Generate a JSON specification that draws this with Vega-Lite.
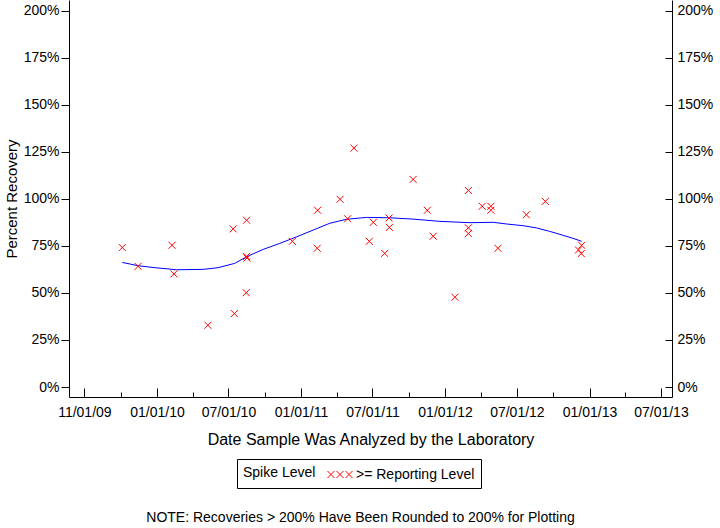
{
  "$schema": "https://vega.github.io/schema/vega-lite/v6.json",
  "width": 603,
  "height": 397,
  "autosize": {"type": "none"},
  "padding": {"left": 69, "top": 0, "right": 48, "bottom": 131},
  "background": "white",
  "title": {"text": "NOTE: Recoveries > 200% Have Been Rounded to 200% for Plotting", "orient": "bottom", "anchor": "middle", "frame": "group", "offset": 22, "dx": -10, "fontSize": 14, "fontWeight": "normal", "font": "Liberation Sans", "color": "black"},
  "config": {
    "font": "Liberation Sans",
    "view": {"stroke": null},
    "axis": {"grid": false, "domainColor": "black", "tickColor": "black", "labelColor": "black", "titleColor": "black", "labelFont": "Liberation Sans", "titleFont": "Liberation Sans", "labelFontSize": 14, "titleFontWeight": "normal", "labelOverlap": false, "labelBound": false, "labelFlush": false}
  },
  "datasets": {
    "pts": [
      {"date": "2009-10-05T00:00:00", "pct": 74.1, "level": ">= Reporting Level"},
      {"date": "2009-11-14T00:00:00", "pct": 64.1, "level": ">= Reporting Level"},
      {"date": "2010-02-08T00:00:00", "pct": 75.3, "level": ">= Reporting Level"},
      {"date": "2010-02-13T00:00:00", "pct": 60.1, "level": ">= Reporting Level"},
      {"date": "2010-05-10T00:00:00", "pct": 32.8, "level": ">= Reporting Level"},
      {"date": "2010-07-13T00:00:00", "pct": 84.0, "level": ">= Reporting Level"},
      {"date": "2010-07-16T00:00:00", "pct": 39.0, "level": ">= Reporting Level"},
      {"date": "2010-08-16T00:00:00", "pct": 88.6, "level": ">= Reporting Level"},
      {"date": "2010-08-16T00:00:00", "pct": 69.4, "level": ">= Reporting Level"},
      {"date": "2010-08-17T00:00:00", "pct": 68.5, "level": ">= Reporting Level"},
      {"date": "2010-08-15T00:00:00", "pct": 50.1, "level": ">= Reporting Level"},
      {"date": "2010-12-10T00:00:00", "pct": 77.4, "level": ">= Reporting Level"},
      {"date": "2011-02-12T00:00:00", "pct": 93.9, "level": ">= Reporting Level"},
      {"date": "2011-02-11T00:00:00", "pct": 73.7, "level": ">= Reporting Level"},
      {"date": "2011-04-10T00:00:00", "pct": 99.7, "level": ">= Reporting Level"},
      {"date": "2011-04-29T00:00:00", "pct": 89.4, "level": ">= Reporting Level"},
      {"date": "2011-05-15T00:00:00", "pct": 126.9, "level": ">= Reporting Level"},
      {"date": "2011-06-23T00:00:00", "pct": 77.4, "level": ">= Reporting Level"},
      {"date": "2011-07-03T00:00:00", "pct": 87.5, "level": ">= Reporting Level"},
      {"date": "2011-08-01T00:00:00", "pct": 71.0, "level": ">= Reporting Level"},
      {"date": "2011-08-12T00:00:00", "pct": 89.8, "level": ">= Reporting Level"},
      {"date": "2011-08-13T00:00:00", "pct": 84.8, "level": ">= Reporting Level"},
      {"date": "2011-10-12T00:00:00", "pct": 110.3, "level": ">= Reporting Level"},
      {"date": "2011-11-17T00:00:00", "pct": 93.9, "level": ">= Reporting Level"},
      {"date": "2011-12-02T00:00:00", "pct": 80.1, "level": ">= Reporting Level"},
      {"date": "2012-01-26T00:00:00", "pct": 47.7, "level": ">= Reporting Level"},
      {"date": "2012-02-29T00:00:00", "pct": 104.4, "level": ">= Reporting Level"},
      {"date": "2012-02-29T00:00:00", "pct": 84.6, "level": ">= Reporting Level"},
      {"date": "2012-02-29T00:00:00", "pct": 81.5, "level": ">= Reporting Level"},
      {"date": "2012-04-04T00:00:00", "pct": 96.0, "level": ">= Reporting Level"},
      {"date": "2012-04-26T00:00:00", "pct": 96.0, "level": ">= Reporting Level"},
      {"date": "2012-04-26T00:00:00", "pct": 93.9, "level": ">= Reporting Level"},
      {"date": "2012-05-14T00:00:00", "pct": 73.7, "level": ">= Reporting Level"},
      {"date": "2012-07-25T00:00:00", "pct": 91.5, "level": ">= Reporting Level"},
      {"date": "2012-09-11T00:00:00", "pct": 98.6, "level": ">= Reporting Level"},
      {"date": "2012-12-04T00:00:00", "pct": 72.8, "level": ">= Reporting Level"},
      {"date": "2012-12-12T00:00:00", "pct": 75.3, "level": ">= Reporting Level"},
      {"date": "2012-12-11T00:00:00", "pct": 70.9, "level": ">= Reporting Level"}
    ],
    "fit": [
      {"date": "2009-10-05T00:00:00", "pct": 66.2},
      {"date": "2009-11-15T00:00:00", "pct": 64.4},
      {"date": "2009-12-27T00:00:00", "pct": 63.4},
      {"date": "2010-02-19T00:00:00", "pct": 62.3},
      {"date": "2010-04-28T00:00:00", "pct": 62.5},
      {"date": "2010-06-05T00:00:00", "pct": 63.4},
      {"date": "2010-07-17T00:00:00", "pct": 65.7},
      {"date": "2010-08-16T00:00:00", "pct": 69.2},
      {"date": "2010-09-27T00:00:00", "pct": 73.1},
      {"date": "2010-11-08T00:00:00", "pct": 76.3},
      {"date": "2010-12-21T00:00:00", "pct": 79.8},
      {"date": "2011-02-01T00:00:00", "pct": 83.4},
      {"date": "2011-03-15T00:00:00", "pct": 87.0},
      {"date": "2011-04-26T00:00:00", "pct": 89.1},
      {"date": "2011-06-16T00:00:00", "pct": 90.1},
      {"date": "2011-08-14T00:00:00", "pct": 89.9},
      {"date": "2011-10-12T00:00:00", "pct": 89.2},
      {"date": "2011-12-19T00:00:00", "pct": 88.0},
      {"date": "2012-03-04T00:00:00", "pct": 87.3},
      {"date": "2012-05-02T00:00:00", "pct": 87.5},
      {"date": "2012-06-05T00:00:00", "pct": 86.6},
      {"date": "2012-07-17T00:00:00", "pct": 85.7},
      {"date": "2012-08-20T00:00:00", "pct": 84.5},
      {"date": "2012-09-22T00:00:00", "pct": 82.7},
      {"date": "2012-10-26T00:00:00", "pct": 80.6},
      {"date": "2012-11-20T00:00:00", "pct": 79.0},
      {"date": "2012-12-12T00:00:00", "pct": 77.4}
    ]
  },
  "layer": [
    {
      "mark": {"type": "rule", "color": "black", "strokeWidth": 1},
      "encoding": {"y": {"datum": 100, "type": "quantitative", "axis": null}}
    },
    {
      "data": {"name": "fit"},
      "mark": {"type": "line", "color": "#0000ff", "strokeWidth": 1},
      "encoding": {
        "x": {"field": "date", "type": "temporal",
          "scale": {"domain": [{"year": 2009, "month": 5, "date": 23}, {"year": 2013, "month": 7, "date": 29}]},
          "axis": {"orient": "bottom", "values": [{"year": 2009, "month": 10, "date": 1}, {"year": 2010, "month": 4, "date": 1}, {"year": 2010, "month": 10, "date": 1}, {"year": 2011, "month": 4, "date": 1}, {"year": 2011, "month": 10, "date": 1}, {"year": 2012, "month": 4, "date": 1}, {"year": 2012, "month": 10, "date": 1}, {"year": 2013, "month": 4, "date": 1}],
            "labels": false, "tickSize": -5, "domain": false, "title": null}},
        "y": {"field": "pct", "type": "quantitative",
          "scale": {"domain": [-5.3, 205.6], "nice": false, "zero": false},
          "axis": {"orient": "right", "values": [0, 25, 50, 75, 100, 125, 150, 175, 200], "labelExpr": "datum.value + '%'", "tickSize": -7, "labelPadding": 12, "title": null}}
      }
    },
    {
      "data": {"name": "pts"},
      "mark": {"type": "point", "shape": "M-1,-1L1,1M-1,1L1,-1", "size": 49, "strokeWidth": 1, "filled": false, "opacity": 1},
      "encoding": {
        "x": {"field": "date", "type": "temporal",
          "axis": {"orient": "bottom", "values": [{"year": 2009, "month": 7, "date": 1}, {"year": 2010, "month": 1, "date": 1}, {"year": 2010, "month": 7, "date": 1}, {"year": 2011, "month": 1, "date": 1}, {"year": 2011, "month": 7, "date": 1}, {"year": 2012, "month": 1, "date": 1}, {"year": 2012, "month": 7, "date": 1}, {"year": 2013, "month": 1, "date": 1}, {"year": 2013, "month": 7, "date": 1}],
            "labelExpr": "year(datum.value) == 2009 ? '11/01/09' : timeFormat(datum.value, '%m/%d/%y')",
            "tickSize": -9, "labelPadding": 17, "title": "Date Sample Was Analyzed by the Laboratory", "titleFontSize": 16, "titlePadding": 12}},
        "y": {"field": "pct", "type": "quantitative",
          "axis": {"orient": "left", "values": [0, 25, 50, 75, 100, 125, 150, 175, 200], "labelExpr": "datum.value + '%'", "tickSize": 8, "labelPadding": 2, "title": "Percent Recovery", "titleFontSize": 15, "titlePadding": 4}},
        "color": {"field": "level", "type": "nominal",
          "scale": {"domain": [">= Reporting Level"], "range": ["#ff0000"]},
          "legend": {"title": "Spike Level", "orient": "none", "legendX": 168, "legendY": 459, "titleOrient": "left", "titleBaseline": "middle", "direction": "horizontal",
            "symbolType": "M-1.39,-0.39L-0.61,0.39M-1.39,0.39L-0.61,-0.39M-0.39,-0.39L0.39,0.39M-0.39,0.39L0.39,-0.39M0.61,-0.39L1.39,0.39M0.61,0.39L1.39,-0.39",
            "symbolSize": 324, "symbolStrokeWidth": 1, "strokeColor": "black", "padding": 6,
            "labelExpr": "datum.label + '\u00a0\u00a0'",
            "titleFontSize": 14, "titleFontWeight": "normal", "titleColor": "black", "titleFont": "Liberation Sans",
            "labelFontSize": 14, "labelColor": "black", "labelFont": "Liberation Sans", "titlePadding": 14.5, "labelOffset": 6.5}}
      }
    }
  ],
  "resolve": {"axis": {"x": "independent", "y": "independent"}}
}
